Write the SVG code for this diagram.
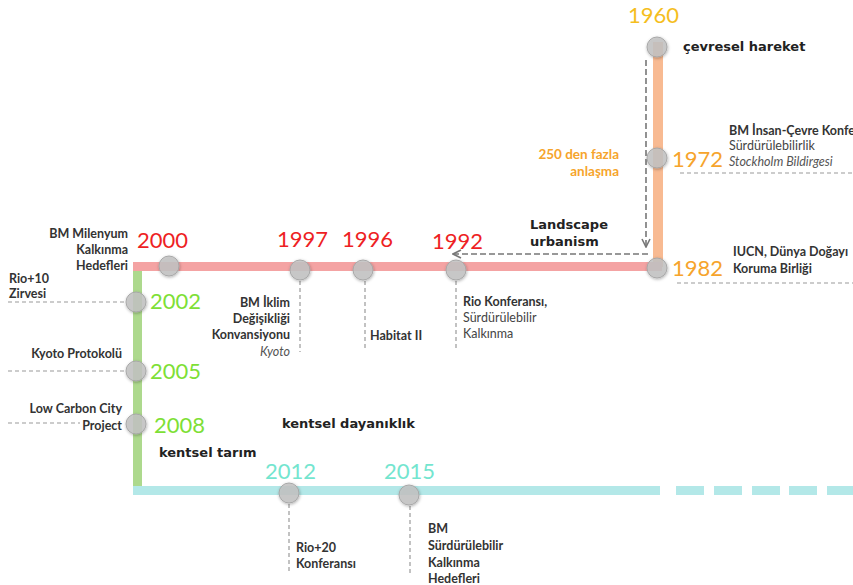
<svg xmlns="http://www.w3.org/2000/svg" width="853" height="585" viewBox="0 0 853 585">
<defs>
<style>
.yr{font-family:Lato,"Liberation Sans",sans-serif;font-size:22px;}
.red{fill:#EE1F24;}
.grn{fill:#7EDF36;}
.org{fill:#F6A42C;}
.gold{fill:#F5BE1E;}
.cyn{fill:#74E5CF;}
.lb{font-family:Lato,"Liberation Sans",sans-serif;font-size:12.5px;font-weight:bold;fill:#333;}
.lr{font-family:Lato,"Liberation Sans",sans-serif;font-size:12.5px;fill:#444;}
.li{font-family:Lato,"Liberation Sans",sans-serif;font-size:12.5px;font-style:italic;fill:#555;}
.hd{font-family:"DejaVu Sans",sans-serif;font-size:13px;font-weight:bold;fill:#222;}
.ob{font-family:Lato,"Liberation Sans",sans-serif;font-size:13.5px;font-weight:bold;fill:#F6A42C;}
.dash{stroke:#9a9a9a;stroke-width:1.2;stroke-dasharray:4 3;fill:none;}
.arr{stroke:#777;stroke-width:1.6;stroke-dasharray:6 3;fill:none;}
.dot{fill:#c4c4c4;fill-opacity:0.85;stroke:#a8a8a8;stroke-width:1;filter:url(#sh);}
</style>
<filter id="sh" x="-50%" y="-50%" width="200%" height="200%">
<feDropShadow dx="0.5" dy="1" stdDeviation="1.5" flood-color="#000" flood-opacity="0.35"/>
</filter>
<marker id="chev" viewBox="0 0 10 10" refX="9" refY="5" markerWidth="10" markerHeight="10" markerUnits="userSpaceOnUse" orient="auto">
<path d="M1,1 L9,5 L1,9" fill="none" stroke="#777" stroke-width="1.6"/>
</marker>
</defs>
<rect width="853" height="585" fill="#fff"/>

<g id="connectors">
<rect x="653" y="42" width="10" height="225" fill="#F8BA92"/>
<rect x="133" y="262" width="529" height="9" fill="#F4A3A3"/>
<rect x="133" y="271" width="9" height="219" fill="#ADD98D"/>
<rect x="133" y="486" width="527" height="9" fill="#B3E8E8"/>
<g fill="#B3E8E8">
<rect x="676" y="486" width="28" height="9"/>
<rect x="714" y="486" width="28" height="9"/>
<rect x="752" y="486" width="28" height="9"/>
<rect x="789" y="486" width="28" height="9"/>
<rect x="827" y="486" width="28" height="9"/>
</g>
<path class="arr" d="M646,60 V247" marker-end="url(#chev)"/>
<path class="arr" d="M648,254 H453" marker-end="url(#chev)"/>
<path class="dash" d="M680,173 H853"/>
<path class="dash" d="M677,283 H853"/>
<path class="dash" d="M8,302 H126"/>
<path class="dash" d="M8,371 H126"/>
<path class="dash" d="M8,423 H80"/>
<path class="dash" d="M300,281 V352"/>
<path class="dash" d="M365,281 V350"/>
<path class="dash" d="M456,281 V349"/>
<path class="dash" d="M289,504 V574"/>
<path class="dash" d="M410,506 V576"/>
</g>

<g id="n1960">
<text class="yr gold" x="628" y="23">1960</text>
<circle class="dot" cx="657" cy="47" r="10"/>
<text class="hd" x="683" y="51">çevresel hareket</text>
</g>
<g id="n1972">
<circle class="dot" cx="657" cy="158" r="10"/>
<text class="yr org" x="672" y="167">1972</text>
<text class="lb" x="729" y="135">BM İnsan-Çevre Konferansı</text>
<text class="lr" x="729" y="150">Sürdürülebilirlik</text>
<text class="li" x="729" y="166">Stockholm Bildirgesi</text>
<text class="ob" x="619" y="159" text-anchor="end">250 den fazla</text>
<text class="ob" x="619" y="176" text-anchor="end">anlaşma</text>
</g>
<g id="landscape">
<text class="hd" x="530" y="229">Landscape</text>
<text class="hd" x="530" y="246">urbanism</text>
</g>
<g id="n1982">
<circle class="dot" cx="657" cy="268" r="10"/>
<text class="yr org" x="672" y="276">1982</text>
<text class="lb" x="733" y="256">IUCN, Dünya Doğayı</text>
<text class="lb" x="733" y="273">Koruma Birliği</text>
</g>
<g id="n1992">
<text class="yr red" x="432" y="249">1992</text>
<circle class="dot" cx="456" cy="270" r="10"/>
<text class="lb" x="463" y="306">Rio Konferansı,</text>
<text class="lr" x="463" y="322">Sürdürülebilir</text>
<text class="lr" x="463" y="338">Kalkınma</text>
</g>
<g id="n1996">
<text class="yr red" x="342" y="247">1996</text>
<circle class="dot" cx="363" cy="270" r="10"/>
<text class="lb" x="370" y="340">Habitat II</text>
</g>
<g id="n1997">
<text class="yr red" x="277" y="247">1997</text>
<circle class="dot" cx="300" cy="270" r="10"/>
<text class="lb" x="290" y="307" text-anchor="end">BM İklim</text>
<text class="lb" x="290" y="323" text-anchor="end">Değişikliği</text>
<text class="lb" x="290" y="339" text-anchor="end">Konvansiyonu</text>
<text class="li" x="290" y="356" text-anchor="end">Kyoto</text>
</g>
<g id="n2000">
<text class="yr red" x="137" y="248">2000</text>
<circle class="dot" cx="169" cy="266" r="10"/>
<text class="lb" x="128" y="238" text-anchor="end">BM Milenyum</text>
<text class="lb" x="128" y="254" text-anchor="end">Kalkınma</text>
<text class="lb" x="128" y="270" text-anchor="end">Hedefleri</text>
</g>
<g id="n2002">
<circle class="dot" cx="136" cy="302" r="10"/>
<text class="yr grn" x="150" y="309">2002</text>
<text class="lb" x="9" y="283">Rio+10</text>
<text class="lb" x="9" y="298">Zirvesi</text>
</g>
<g id="n2005">
<circle class="dot" cx="136" cy="371" r="10"/>
<text class="yr grn" x="150" y="379">2005</text>
<text class="lb" x="122" y="358" text-anchor="end">Kyoto Protokolü</text>
</g>
<g id="n2008">
<circle class="dot" cx="136" cy="424" r="10"/>
<text class="yr grn" x="154" y="433">2008</text>
<text class="lb" x="122" y="413" text-anchor="end">Low Carbon City</text>
<text class="lb" x="122" y="430" text-anchor="end">Project</text>
</g>
<g id="themes">
<text class="hd" x="282" y="428">kentsel dayanıklık</text>
<text class="hd" x="159" y="457">kentsel tarım</text>
</g>
<g id="n2012">
<text class="yr cyn" x="265" y="479">2012</text>
<circle class="dot" cx="289" cy="493" r="10"/>
<text class="lb" x="296" y="552">Rio+20</text>
<text class="lb" x="296" y="568">Konferansı</text>
</g>
<g id="n2015">
<text class="yr cyn" x="384" y="479">2015</text>
<circle class="dot" cx="409" cy="495" r="10"/>
<text class="lb" x="428" y="533">BM</text>
<text class="lb" x="428" y="550">Sürdürülebilir</text>
<text class="lb" x="428" y="567">Kalkınma</text>
<text class="lb" x="428" y="583">Hedefleri</text>
</g>
</svg>
